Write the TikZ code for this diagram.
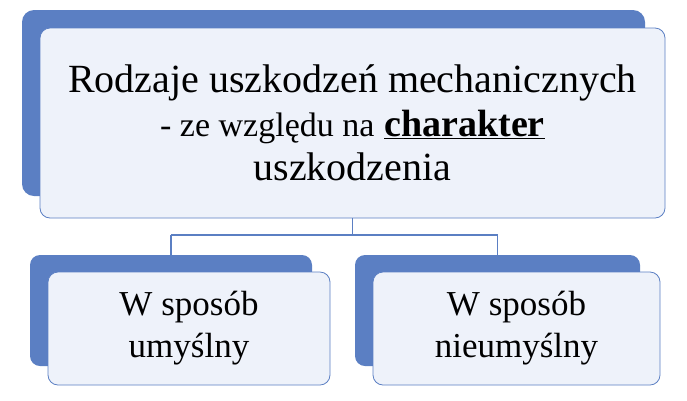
\documentclass[tikz,border=0pt]{standalone}
\usepackage{fontspec}
\setmainfont{Liberation Serif}
\begin{document}
\begin{tikzpicture}[x=1pt,y=-1pt,
  front/.style={draw=backblue, line width=0.8pt, fill=frontfill, rounded corners=10pt, align=center},
  conn/.style={draw=backblue, line width=1.2pt}]
\definecolor{backblue}{HTML}{5B7FC3}
\definecolor{frontfill}{HTML}{EEF2FA}
\useasboundingbox (0,0) rectangle (687,400);
\fill[backblue, rounded corners=12pt] (22,10) rectangle (645,196);
\node[front, minimum width=625pt, minimum height=190pt, font=\fontsize{40}{44}\selectfont] (top) at (352.5,123)
 {Rodzaje uszkodzeń mechanicznych\\ {\fontsize{34}{44}\selectfont - ze względu na} {\fontsize{38}{44}\selectfont\underline{\textbf{charakter}}}\\ uszkodzenia};
\fill[backblue, rounded corners=10pt] (30,255) rectangle (312,366);
\fill[backblue, rounded corners=10pt] (355,255) rectangle (640,366);
\node[front, minimum width=282pt, minimum height=113pt, font=\fontsize{35}{42}\selectfont] (l) at (189,328.5) {W sposób\\umyślny};
\node[front, minimum width=287pt, minimum height=113pt, font=\fontsize{35}{42}\selectfont] (r) at (516.5,328.5) {W sposób\\nieumyślny};
\coordinate (j) at (352.5,235);
\coordinate (jl) at (171,235);
\coordinate (jr) at (497.5,235);
\draw[conn] (top.south) -- (j) (jl) -- (jr) (jl) -- (171,255) (jr) -- (497.5,255);
\end{tikzpicture}
\end{document}
